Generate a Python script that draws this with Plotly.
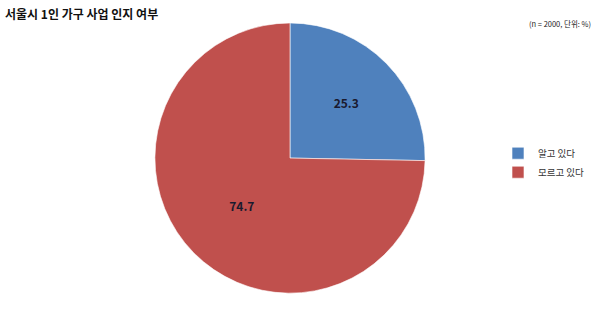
import plotly.graph_objects as go

labels = ["알고 있다", "모르고 있다"]
values = [25.3, 74.7]
colors = ["#4F81BD", "#C0504D"]

fig = go.Figure(go.Pie(
    labels=labels,
    values=values,
    sort=False,
    direction="clockwise",
    rotation=0,
    marker=dict(colors=colors, line=dict(color="white", width=0.6)),
    textinfo="value",
    texttemplate="<b>%{value:.1f}</b>",
    textposition="inside",
    insidetextorientation="horizontal",
    textfont=dict(family="Noto Sans CJK KR", size=12, color="#1a1a2e"),
    domain=dict(x=[0.2567, 0.7100], y=[0.081, 0.928]),
    hoverinfo="label+value",
))

fig.update_layout(
    width=600, height=319,
    margin=dict(l=0, r=0, t=0, b=0),
    paper_bgcolor="white",
    plot_bgcolor="white",
    font=dict(family="Noto Sans CJK KR"),
    showlegend=True,
    legend=dict(
        x=0.83, y=0.49, xanchor="left", yanchor="middle",
        font=dict(size=9.5, color="#333333"),
        tracegroupgap=0, itemwidth=30,
    ),
    annotations=[
        dict(text="<b>서울시 1인 가구 사업 인지 여부</b>", x=0.005, y=0.99,
             xref="paper", yref="paper", xanchor="left", yanchor="top",
             showarrow=False, font=dict(size=12, color="#111111")),
        dict(text="(n = 2000, 단위: %)", x=0.988, y=0.925,
             xref="paper", yref="paper", xanchor="right", yanchor="middle",
             showarrow=False, font=dict(size=7.5, color="#222222")),
    ],
)

fig.write_html("out.html")
